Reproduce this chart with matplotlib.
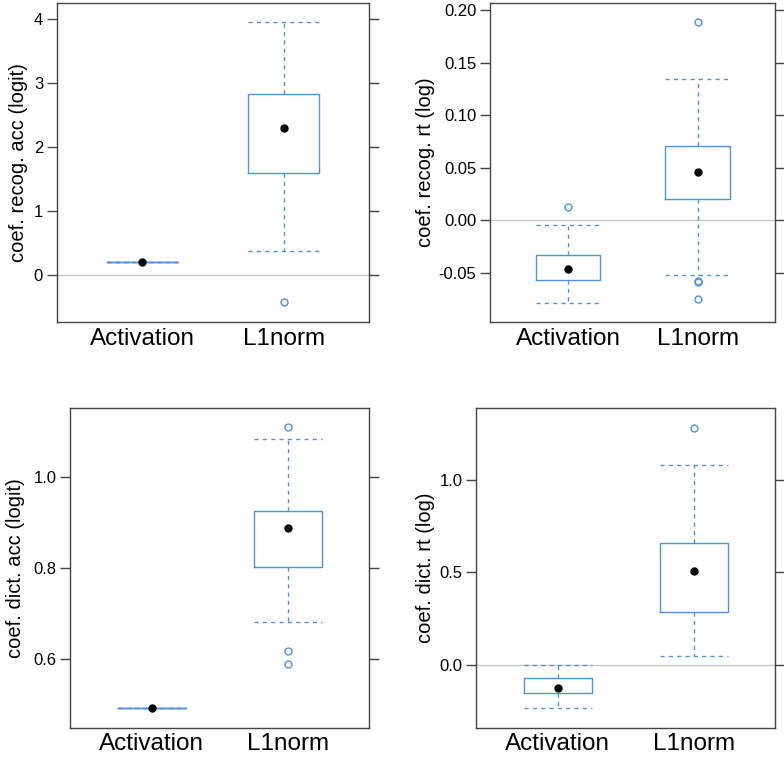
import numpy as np
import matplotlib.pyplot as plt

plt.rcParams['font.family'] = ['Liberation Sans', 'DejaVu Sans']

groups = ['Activation', 'L1norm']

# per panel: [q1, median, q3, whisker low, whisker high] for each group, plus fliers
recog_acc = {'Activation': [0.21, 0.21, 0.21, 0.21, 0.21],
             'L1norm': [1.60, 2.30, 2.83, 0.385, 3.96]}
recog_acc_out = {'Activation': [], 'L1norm': [-0.42]}

recog_rt = {'Activation': [-0.0570, -0.0459, -0.0326, -0.0782, -0.0045],
            'L1norm': [0.0200, 0.0463, 0.0703, -0.0516, 0.1343]}
recog_rt_out = {'Activation': [0.0130], 'L1norm': [0.1882, -0.0575, -0.0585, -0.0751]}

dict_acc = {'Activation': [0.4925, 0.4925, 0.4925, 0.4925, 0.4925],
            'L1norm': [0.803, 0.8875, 0.925, 0.681, 1.0827]}
dict_acc_out = {'Activation': [], 'L1norm': [1.1087, 0.6189, 0.589]}

dict_rt = {'Activation': [-0.1535, -0.1264, -0.0738, -0.2364, -0.001],
           'L1norm': [0.2875, 0.5098, 0.658, 0.0455, 1.0813]}
dict_rt_out = {'Activation': [], 'L1norm': [1.2853]}

ylabels = ['coef. recog. acc (logit)', 'coef. recog. rt (log)',
           'coef. dict. acc (logit)', 'coef. dict. rt (log)']
yticks = [[0, 1, 2, 3, 4],
          [-0.05, 0.00, 0.05, 0.10, 0.15, 0.20],
          [0.6, 0.8, 1.0],
          [0.0, 0.5, 1.0]]
yfmt = ['{:.0f}', '{:.2f}', '{:.1f}', '{:.1f}']
ylims = [(-0.73, 4.255), (-0.0966, 0.2067), (0.45, 1.1507), (-0.3417, 1.39)]

blue = '#4f93e0'

fig = plt.figure(figsize=(7.84, 7.57), dpi=100)
positions = [[0.0727, 0.5746, 0.398, 0.4214],
             [0.6254, 0.5746, 0.3635, 0.4214],
             [0.0897, 0.0387, 0.3814, 0.4219],
             [0.6075, 0.0387, 0.3814, 0.4219]]
label_x = [-0.093, -0.193, -0.151, -0.137]

panels = [(recog_acc, recog_acc_out), (recog_rt, recog_rt_out),
          (dict_acc, dict_acc_out), (dict_rt, dict_rt_out)]

for i, (stats, outs) in enumerate(panels):
    ax = fig.add_axes(positions[i])
    lo, hi = ylims[i]
    if lo < 0 < hi:
        ax.axhline(0, color='#c8c8c8', lw=1, zorder=0)
    bxs = []
    for g in groups:
        q1, med, q3, wlo, whi = stats[g]
        bxs.append(dict(q1=q1, med=med, q3=q3, whislo=wlo, whishi=whi,
                        fliers=outs[g], label=g))
    ax.bxp(bxs, positions=[1, 2], widths=0.5, showcaps=True,
           boxprops=dict(color=blue, lw=1),
           whiskerprops=dict(color=blue, lw=1, linestyle=(0, (3, 3))),
           capprops=dict(color=blue, lw=1, linestyle=(0, (3, 3))),
           capwidths=0.5,
           medianprops=dict(linestyle='none', marker=''),
           flierprops=dict(marker='o', markersize=5, markerfacecolor='none',
                           markeredgecolor=blue, markeredgewidth=1))
    # lattice-style median dot
    for k, g in enumerate(groups):
        ax.plot(k + 1, stats[g][1], 'o', color='black', markersize=5, zorder=5)
    ax.set_xlim(0.4, 2.6)
    ax.set_ylim(lo, hi)
    ax.set_yticks(yticks[i])
    ax.set_yticklabels([yfmt[i].format(v) for v in yticks[i]])
    ax.set_xticks([1, 2])
    ax.set_xticklabels(groups)
    ax.tick_params(axis='y', direction='out', length=7, width=1, color='#444444',
                   labelsize=12, pad=3, right=True, labelright=False)
    ax.tick_params(axis='x', length=0, labelsize=17.5, pad=4)
    for s in ax.spines.values():
        s.set_color('#444444')
        s.set_linewidth(1)
    ax.set_ylabel(ylabels[i], fontsize=14.5)
    ax.yaxis.set_label_coords(label_x[i], 0.5)

plt.savefig('out.png', dpi=100)
